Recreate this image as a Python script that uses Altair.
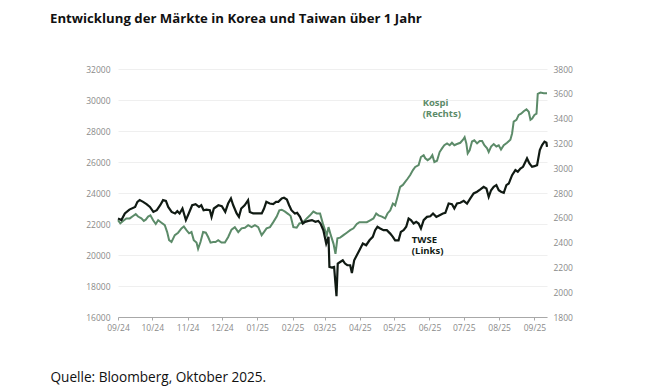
import altair as alt
import pandas as pd

start_date = "2024-09-01"

title_text = "Entwicklung der Märkte in Korea und Taiwan über 1 Jahr"
source_text = "Quelle: Bloomberg, Oktober 2025."

# TWSE (left axis) — days since start, index level
twse_days = [
    0, 3, 6, 10, 15, 17, 19, 22, 25, 28,
    31, 34, 37, 39.5, 42, 44, 47, 50, 52, 54,
    56.5, 59.5, 62, 65, 68, 71, 73, 75, 77.5, 80.5,
    82, 84, 88, 91, 94, 96.5, 99, 101, 104, 106,
    108, 111, 114, 115.5, 118.5, 123, 126, 128, 130, 133,
    136, 138.5, 140.5, 143.5, 145.5, 148, 150, 152, 155, 157,
    159.5, 162, 164, 167, 170, 173, 175.5, 177.5, 180, 182.5,
    184.5, 185.3, 187.4, 189.4, 190.6, 191.5, 192.6, 194.7, 197, 199,
    201, 203.5, 205, 207, 209.3, 211.6,
    214.6, 217.5, 220.4, 223.3, 225.4, 227.4, 229.8, 232.7, 235.6, 238.6,
    240.9, 242.9, 245.9, 247.9, 250.3, 252.6, 254.7, 256.7, 259.1, 261.4,
    263.5, 265.5, 267.9, 270.8, 273.7, 276.1, 279, 281.9, 284.8, 286.9,
    289.8, 292.7, 294.8, 297.1, 300, 303, 305.9, 308.8, 311.7, 314.7,
    317.6, 320.5, 322.9, 324.9, 327, 329.3, 331.6, 333.7, 335.7, 338.1,
    340.4, 342.5, 345.4, 348.3, 350.4, 352.7, 355, 357.1, 358.5, 360.6,
    362.9, 365, 367.3, 369.7, 371.7, 373.8, 375.5, 376,
]
twse_values = [
    22350, 22250, 22680, 22930, 23100, 23430, 23540, 23430, 23280, 23100,
    22780, 22890, 23210, 23540, 23490, 23100, 22780, 22680, 22830, 22680,
    23000, 22250, 22680, 23210, 23280, 23100, 23210, 22890, 22930, 22890,
    22460, 23000, 23210, 23150, 22780, 23320, 23650, 23210, 22680, 22460,
    23000, 23210, 23540, 22780, 22680, 22680, 22680, 23000, 23430, 23320,
    23280, 23430, 23430, 23650, 23690, 23580, 23210, 22890, 22680, 22720,
    22460, 22030, 22140, 22200, 22250, 22140, 22200, 22030, 21600, 20740,
    21170, 19230, 19190, 19230, 18150, 17340, 19450, 19550, 19660, 19450,
    19340, 19340, 18840, 19660, 19980, 20310,
    20740, 20630, 20950, 21170, 21600, 21820, 21710, 21600, 21600, 21380,
    21170, 20950, 20950, 21490, 21600, 21820, 22350, 22250, 22030, 22140,
    22030, 21710, 22250, 22460, 22500, 22680, 22460, 22570, 22680, 22720,
    23320, 23280, 23000, 23320, 23370, 23490, 23320, 23650, 23970, 24080,
    24230, 24400, 24290, 23750, 24180, 24400, 24510, 24180, 24080, 24010,
    24510, 24610, 25150, 25480, 25370, 25580, 25690, 26010, 26230, 25910,
    25690, 25730, 25800, 26770, 27090, 27310, 27240, 26980,
]

# Kospi (right axis)
kospi_days = [
    0, 2, 4.4, 7.3, 10.3, 13.2, 15.5, 17.6, 20.5, 22.6,
    24.3, 26.4, 28.4, 30.8, 33.1, 35.2, 38.1, 41, 43.1, 44.8,
    46.9, 49.8, 52.7, 55.6, 57.7, 60, 62.3, 64.4, 66.4, 68.8,
    70.2, 72.3, 74.6, 77, 79, 81.1, 83.4, 85.5, 87.8, 90.7,
    93.7, 96.6, 99.5, 102.4, 105.4, 108.3, 111.2, 114.1, 117.1, 120,
    122.9, 125.9, 127.9, 130.2, 133.2, 136.1, 139.1, 141.4, 143.5, 146.4,
    149.3, 151.3, 153.7, 156.6, 159, 161.9, 165.4, 168.3, 171.2, 174.2,
    177.1, 179.5, 181.5, 183, 184.5, 186.5, 188.9, 190.6, 192.3, 194.7,
    197.6, 200.5, 203.5, 206.4, 209.3, 211.6,
    215.2, 218.1, 221, 223.9, 226.3, 228.3, 231.3, 234.2, 236.2, 238.6,
    240.9, 242.9, 245, 247.3, 249.7, 251.7, 253.8, 256.1, 258.5, 260.5,
    263.5, 265.5, 267.9, 269.3, 271.4, 273.7, 275.5, 277.3, 279.6, 281.9,
    284, 286, 288.4, 290.7, 292.7, 294.8, 297.1, 300, 302.4, 303.8,
    305.3, 306.5, 308.2, 310.3, 312.3, 314.7, 317, 319.1, 321.1, 323.5,
    324.9, 327, 329.3, 331.6, 333.7, 335.7, 338.1, 341, 343.9, 345.4,
    346.8, 349.2, 351.2, 353.3, 355.6, 358, 360, 361.5, 363, 365,
    366.8, 367.9, 370.3, 373.2, 376,
]
kospi_values = [
    2580, 2555, 2575, 2595, 2595, 2615, 2630, 2610, 2595, 2575,
    2585, 2610, 2620, 2580, 2550, 2580, 2560, 2540, 2485, 2420,
    2405, 2460, 2480, 2515, 2530, 2500, 2475, 2485, 2420, 2400,
    2350, 2405, 2485, 2480, 2445, 2400, 2405, 2405, 2420, 2400,
    2400, 2445, 2505, 2525, 2485, 2515, 2520, 2540, 2525, 2540,
    2525, 2460, 2485, 2515, 2525, 2565, 2610, 2660, 2665, 2650,
    2630, 2615, 2525, 2520, 2555, 2560, 2595, 2620, 2650, 2635,
    2635, 2555, 2500, 2460, 2525, 2460, 2390, 2310, 2435, 2440,
    2460, 2480, 2500, 2515, 2550, 2565,
    2565, 2565, 2580, 2595, 2635, 2620, 2610, 2595, 2635, 2660,
    2715, 2700, 2770, 2850, 2865, 2890, 2915, 2945, 2985, 3010,
    3025, 3090, 3105, 3080, 3065, 3080, 3105, 3050, 3060, 3130,
    3160, 3185, 3200, 3185, 3205, 3185, 3195, 3205, 3230, 3250,
    3200, 3120, 3145, 3215, 3225, 3200, 3220, 3220, 3185, 3160,
    3130, 3175, 3195, 3175, 3185, 3150, 3185, 3205, 3230, 3280,
    3375, 3390, 3430, 3440, 3460, 3475, 3455, 3390, 3400, 3430,
    3440, 3600, 3610, 3605, 3605,
]

left_ticks = [16000, 18000, 20000, 22000, 24000, 26000, 28000, 30000, 32000]
right_ticks = [1800, 2000, 2200, 2400, 2600, 2800, 3000, 3200, 3400, 3600, 3800]

# annotation labels (position in data units)
twse_label = [["TWSE", "(Links)"]]
twse_label_day = [257.5]
twse_label_value = [21310]
kospi_label = [["Kospi", "(Rechts)"]]
kospi_label_day = [267]
kospi_label_value = [3570]

BLACK = "#101a13"
GREEN = "#5c8b69"
AXIS_GRAY = "#8a8a8a"
FONT = "Open Sans"

t0 = pd.Timestamp(start_date)
twse_df = pd.DataFrame({"date": t0 + pd.to_timedelta(twse_days, unit="D"), "value": twse_values})
kospi_df = pd.DataFrame({"date": t0 + pd.to_timedelta(kospi_days, unit="D"), "value": kospi_values})
twse_lab_df = pd.DataFrame({"date": t0 + pd.to_timedelta(twse_label_day, unit="D"),
                            "value": twse_label_value, "label": twse_label})
kospi_lab_df = pd.DataFrame({"date": t0 + pd.to_timedelta(kospi_label_day, unit="D"),
                             "value": kospi_label_value, "label": kospi_label})

x_enc = alt.X(
    "date:T",
    scale=alt.Scale(domain=[alt.DateTime(year=2024, month=9, date=1),
                            alt.DateTime(year=2025, month=9, date=12)]),
    axis=alt.Axis(
        format="%m/%y",
        tickCount={"interval": "month", "step": 1},
        labelFlush=False,
        grid=False,
        domain=True,
        domainColor="#a8a8a8",
        ticks=True,
        tickColor="#a8a8a8",
        tickSize=3,
        labelPadding=3,
        labelColor=AXIS_GRAY,
        labelFont=FONT,
        labelFontSize=8.5,
        title=source_text,
        titleX=-68,
        titleY=64,
        titleAlign="left",
        titleAnchor="start",
        titleBaseline="alphabetic",
        titleFont=FONT,
        titleFontSize=13.6,
        titleFontWeight="normal",
        titleColor="#111111",
    ),
)

y_left = alt.Y(
    "value:Q",
    scale=alt.Scale(domain=[16000, 32000], nice=False),
    axis=alt.Axis(
        orient="left", values=left_ticks, format="d", grid=True,
        gridColor="#efefef", gridWidth=1, domain=False, ticks=False,
        labelPadding=8, labelColor=AXIS_GRAY, labelFont=FONT, labelFontSize=8.5,
        title="",
    ),
)
y_right = alt.Y(
    "value:Q",
    scale=alt.Scale(domain=[1800, 3800], nice=False),
    axis=alt.Axis(
        orient="right", values=right_ticks, format="d", grid=False,
        domain=False, ticks=False,
        labelPadding=6, labelColor=AXIS_GRAY, labelFont=FONT, labelFontSize=8.5,
        title="",
    ),
)

twse_line = alt.Chart(twse_df).mark_line(color=BLACK, strokeWidth=2.2).encode(x=x_enc, y=y_left)
twse_text = alt.Chart(twse_lab_df).mark_text(
    align="left", baseline="top", font=FONT, fontWeight="bold", fontSize=9.5,
    lineHeight=11.5, color=BLACK,
).encode(x=x_enc, y=y_left, text="label")

kospi_line = alt.Chart(kospi_df).mark_line(color=GREEN, strokeWidth=2).encode(x=x_enc, y=y_right)
kospi_text = alt.Chart(kospi_lab_df).mark_text(
    align="left", baseline="top", font=FONT, fontWeight="bold", fontSize=9.5,
    lineHeight=11.5, color=GREEN,
).encode(x=x_enc, y=y_right, text="label")

chart = alt.layer(
    alt.layer(kospi_line, kospi_text),
    alt.layer(twse_line, twse_text),
).resolve_scale(y="independent").properties(
    width=429,
    height=248,
    padding={"left": 110, "top": 61, "right": 40, "bottom": 72},
    autosize=alt.AutoSizeParams(type="none"),
    background="white",
    title=alt.TitleParams(
        text=title_text, anchor="start", frame="group", dx=-68, offset=39,
        font=FONT, fontSize=13.2, fontWeight="bold", color="#111111",
    ),
).configure_view(strokeWidth=0)

chart.save("out.html", embed_options={"renderer": "svg", "actions": False})
